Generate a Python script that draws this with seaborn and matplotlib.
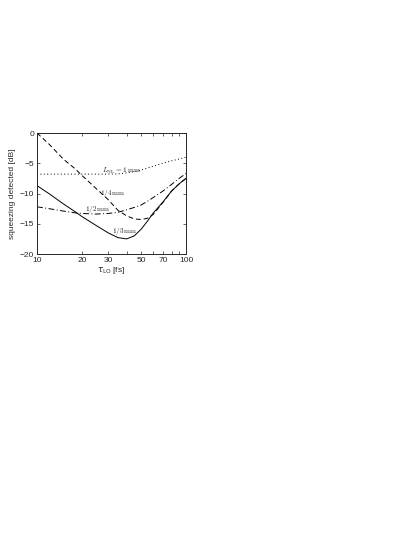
import matplotlib
matplotlib.use("Agg")
import matplotlib.pyplot as plt
import seaborn as sns
import pandas as pd
from matplotlib.ticker import FixedLocator, FixedFormatter, NullLocator

# values
tau_lo = [10, 12, 15, 18, 20, 25, 30, 35, 40, 45, 50, 55, 60, 70, 80, 90, 100]
sq_1mm = [-6.8, -6.8, -6.8, -6.8, -6.8, -6.8, -6.8, -6.75, -6.6, -6.4, -6.1, -5.8, -5.5, -5.0, -4.6, -4.3, -4.0]
sq_quarter = [0.0, -1.8, -4.3, -5.9, -7.0, -9.2, -11.0, -12.8, -13.7, -14.2, -14.3, -14.1, -13.5, -11.5, -9.6, -8.4, -7.5]
sq_half = [-12.2, -12.5, -12.9, -13.2, -13.3, -13.4, -13.3, -13.1, -12.7, -12.3, -11.9, -11.3, -10.7, -9.6, -8.5, -7.5, -6.7]
sq_third = [-8.7, -10.0, -11.7, -13.0, -13.8, -15.3, -16.5, -17.3, -17.5, -17.0, -15.9, -14.6, -13.3, -11.4, -9.6, -8.4, -7.5]

curve_names = ['1 mm', '1/4 mm', '1/2 mm', '1/3 mm']
x_ticks = [10, 20, 30, 40, 50, 60, 70, 80, 90, 100]
x_ticklabels = ['10', '20', '30', '', '50', '', '70', '', '', '100']
y_ticks = [-20, -15, -10, -5, 0]

df = pd.concat([
    pd.DataFrame({'tau': tau_lo, 'sq': vals, 'curve': name})
    for name, vals in zip(curve_names, [sq_1mm, sq_quarter, sq_half, sq_third])
], ignore_index=True)

sns.set_style("ticks")
plt.rcParams['font.family'] = ['Liberation Sans', 'DejaVu Sans']
plt.rcParams['xtick.direction'] = 'in'
plt.rcParams['ytick.direction'] = 'in'

fig = plt.figure(figsize=(4.15, 5.37), dpi=100)
ax = fig.add_axes([37 / 415, 1 - 254 / 537, 149 / 415, 121 / 537])

dash_styles = {'1 mm': (1, 2.5), '1/4 mm': (5, 3), '1/2 mm': (6, 2.5, 1, 2.5), '1/3 mm': ''}
sns.lineplot(data=df, x='tau', y='sq', style='curve', dashes=dash_styles,
             color='black', linewidth=0.7, legend=False, ax=ax)

ax.set_xscale('log')
ax.set_xlim(10, 100)
ax.set_ylim(-20, 0)
ax.xaxis.set_major_locator(FixedLocator(x_ticks))
ax.xaxis.set_major_formatter(FixedFormatter(x_ticklabels))
ax.xaxis.set_minor_locator(NullLocator())
ax.set_yticks(y_ticks)
ax.tick_params(axis='both', which='major', labelsize=6, length=2.5, width=0.5,
               top=True, right=True, pad=2)
for s in ax.spines.values():
    s.set_linewidth(0.7)

ax.set_xlabel(r'$\tau_{\rm LO}$ [fs]', fontsize=6, labelpad=1)
ax.set_ylabel('squeezing detected [dB]', fontsize=6, labelpad=3)

# curve annotations in serif maths
lbl = dict(fontsize=5.2, math_fontfamily='cm', ha='left', va='center')
ax.text(27.4, -6.2, r'$L_{\rm NL} = 1\,{\rm mm}$', **lbl)
ax.text(26.5, -10.0, r'$1/4\,{\rm mm}$', **lbl)
ax.text(21.0, -12.6, r'$1/2\,{\rm mm}$', **lbl)
ax.text(31.7, -16.3, r'$1/3\,{\rm mm}$', **lbl)

fig.savefig('out.png', dpi=100)
